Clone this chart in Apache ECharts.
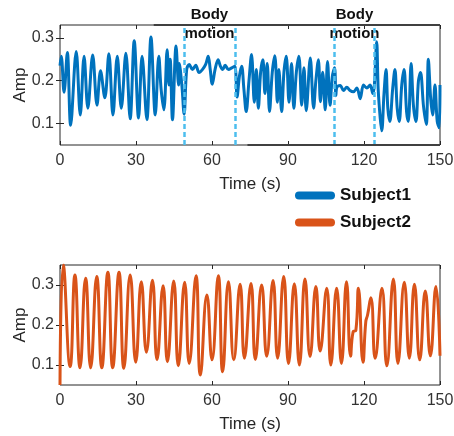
<!DOCTYPE html>
<html>
<head>
<meta charset="utf-8">
<script src="https://cdn.jsdelivr.net/npm/echarts@6/dist/echarts.min.js"></script>
<style>
  html, body { margin: 0; padding: 0; background: #fff; }
  #chart { width: 454px; height: 436px; }
</style>
</head>
<body>
<div id="chart"></div>
<script>
// Subject1 (top panel) - time (s) and amplitude
const s1Time = [0, 0.5, 1.6, 2.9, 4.2, 6.4, 8.0, 9.5, 11.0, 12.9, 14.6, 16.0, 17.7, 19.3, 20.9, 22.6, 24.2, 26.0, 27.7, 29.3,
  31.0, 32.4, 34.3, 35.9, 37.6, 39.0, 39.9, 41.0, 42.3, 43.0, 43.5, 44.4, 45.8, 46.8, 47.1, 48.1, 49.0,
  50.0, 51.0, 52.3, 53.6, 54.9, 56.2, 57.5, 58.5, 59.3, 60.1, 61.2, 62.4, 63.3, 64.2, 65.2, 66.5, 67.8, 69.0,
  69.9, 70.8, 71.7, 72.6, 73.5, 74.6, 75.6, 76.7, 77.5, 78.3, 79.2, 80.1, 80.9, 81.8, 82.7, 83.8, 84.8, 85.8,
  86.4, 87.5, 88.4, 89.3, 90.4, 91.4, 92.3, 93.3, 94.3, 95.4, 96.3, 97.2, 98.8, 100.1, 101.0, 102.0, 102.8,
  103.7, 104.7, 105.6, 106.6, 107.5, 108.4, 108.9, 109.3, 110.6, 111.9, 113.2, 114.5, 115.8, 117.2, 118.5,
  119.8, 121.1, 122.4, 123.5, 124.1, 125.0, 125.6, 126.4, 127.0, 127.9, 128.7, 129.4, 130.2, 131.3, 132.2,
  133.1, 133.9, 134.9, 135.8, 136.8, 137.5, 138.6, 139.5, 140.5, 141.5, 142.3, 143.5, 144.6, 145.4, 146.3,
  147.1, 148.0, 148.9, 149.7, 150];
const s1Amp = [0.235, 0.257, 0.173, 0.266, 0.096, 0.268, 0.12, 0.257, 0.136, 0.26, 0.143, 0.223, 0.16, 0.263, 0.12, 0.257, 0.136, 0.264, 0.111, 0.293,
  0.113, 0.257, 0.109, 0.302, 0.12, 0.257, 0.181, 0.132, 0.272, 0.19, 0.25, 0.109, 0.281, 0.19, 0.24, 0.19, 0.122,
  0.226, 0.238, 0.226, 0.236, 0.219, 0.226, 0.238, 0.257, 0.226, 0.192, 0.226, 0.249, 0.234, 0.226, 0.236, 0.226, 0.23, 0.234,
  0.162, 0.21, 0.234, 0.18, 0.128, 0.2, 0.261, 0.15, 0.226, 0.136, 0.22, 0.249, 0.17, 0.24, 0.128, 0.22, 0.258, 0.15,
  0.226, 0.128, 0.22, 0.257, 0.15, 0.24, 0.136, 0.22, 0.257, 0.143, 0.23, 0.13, 0.253, 0.136, 0.2, 0.249, 0.151,
  0.22, 0.132, 0.245, 0.143, 0.21, 0.23, 0.165, 0.185, 0.189, 0.177, 0.185, 0.177, 0.174, 0.183, 0.158,
  0.19, 0.183, 0.19, 0.17, 0.19, 0.291, 0.18, 0.113, 0.083, 0.17, 0.226, 0.136, 0.105, 0.18, 0.226,
  0.136, 0.105, 0.19, 0.226, 0.128, 0.105, 0.24, 0.143, 0.105, 0.2, 0.219, 0.14, 0.098, 0.25, 0.16,
  0.12, 0.19, 0.105, 0.09, 0.19];

// Subject2 (bottom panel)
const s2Time = [0, 1.3, 4.0, 5.9, 7.9, 10.1, 12.1, 14.5, 16.5, 18.9, 20.8, 23.3, 25.2, 27.7, 29.9, 32.1, 34.1, 36.5, 38.3,
  40.7, 42.4, 44.9, 46.7, 49.2, 51.0, 53.7, 55.4, 58.0, 60.0, 62.5, 64.2, 66.5, 68.6, 71.1, 72.8, 75.4, 77.1,
  79.6, 81.6, 84.1, 85.9, 88.3, 90.2, 92.5, 94.5, 96.7, 98.7, 101.0, 102.7, 105.3, 106.9, 109.2, 111.1, 113.1,
  114.7, 115.7, 116.8, 117.8, 119.6, 120.7, 121.4, 122.7, 124.4, 127.1, 129.0, 131.6, 133.4, 135.9, 137.9,
  139.9, 142.0, 144.2, 146.2, 148.4, 150];
const s2Amp = [0.05, 0.35, 0.096, 0.325, 0.093, 0.317, 0.093, 0.321, 0.093, 0.332, 0.093, 0.332, 0.092, 0.325, 0.107, 0.308, 0.132, 0.312, 0.113,
  0.298, 0.108, 0.31, 0.098, 0.307, 0.104, 0.323, 0.075, 0.275, 0.113, 0.323, 0.083, 0.308, 0.113, 0.302, 0.117, 0.304, 0.114,
  0.3, 0.122, 0.311, 0.117, 0.321, 0.104, 0.303, 0.1, 0.315, 0.121, 0.296, 0.135, 0.292, 0.1, 0.292, 0.104, 0.308,
  0.122, 0.183, 0.187, 0.292, 0.107, 0.208, 0.225, 0.268, 0.117, 0.292, 0.098, 0.315, 0.104, 0.307, 0.117,
  0.302, 0.113, 0.285, 0.123, 0.296, 0.123];

const yTicks = [0.1, 0.2, 0.3];
const motionStart = [49, 108.4];
const motionEnd = [69, 124.1];

const pairs = (t, v) => t.map((x, i) => [x, v[i]]);
const ink = '#262626';
const textFont = 'Liberation Sans, Arial, sans-serif';

function xAx(grid, name) {
  return {
    type: 'value', gridIndex: grid, min: 0, max: 150, interval: 30,
    name: name, nameLocation: 'middle', nameGap: 31, nameMoveOverlap: false,
    nameTextStyle: { fontSize: 17, color: ink, fontFamily: textFont },
    axisLine: { show: false },
    axisTick: { inside: true, length: 4, lineStyle: { color: ink } },
    axisLabel: { fontSize: 16, color: '#333', margin: 8, fontFamily: textFont },
    splitLine: { show: false }
  };
}
function xTop(grid) {
  return {
    type: 'value', gridIndex: grid, position: 'top', min: 0, max: 150, interval: 30,
    axisLine: { show: false }, axisLabel: { show: false }, splitLine: { show: false },
    axisTick: { inside: true, length: 4, lineStyle: { color: ink } }
  };
}
function yAx(grid, max, pos) {
  const side = pos === 'right';
  return {
    type: 'value', gridIndex: grid, position: pos, min: 0.05, max: max,
    name: side ? '' : 'Amp', nameLocation: 'middle', nameGap: 31, nameMoveOverlap: false,
    nameTextStyle: { fontSize: 17, color: ink, fontFamily: textFont },
    axisLine: { show: false },
    axisTick: { inside: true, length: 4, customValues: yTicks, lineStyle: { color: ink } },
    axisLabel: { show: !side, fontSize: 16, color: '#333', margin: 6, fontFamily: textFont,
      customValues: yTicks, formatter: v => v.toFixed(1) },
    splitLine: { show: false }
  };
}

const chart = echarts.init(document.getElementById('chart'));
chart.setOption({
  animation: false,
  backgroundColor: '#fff',
  grid: [
    { left: 60, top: 25, width: 380, height: 120, show: true, borderColor: ink, borderWidth: 1, outerBoundsMode: 'none' },
    { left: 60, top: 265, width: 380, height: 120, show: true, borderColor: ink, borderWidth: 1, outerBoundsMode: 'none' }
  ],
  xAxis: [xAx(0, 'Time (s)'), xTop(0), xAx(1, 'Time (s)'), xTop(1)],
  yAxis: [yAx(0, 0.33, 'left'), yAx(0, 0.33, 'right'), yAx(1, 0.35, 'left'), yAx(1, 0.35, 'right')],
  legend: {
    orient: 'vertical', left: 290, top: 182, itemGap: 10,
    itemWidth: 40, itemHeight: 8,
    icon: 'path://M4,0 H36 A4,4 0 0 1 36,8 H4 A4,4 0 0 1 4,0 Z',
    textStyle: { fontSize: 17, fontWeight: 'bold', color: '#111', fontFamily: textFont },
    data: ['Subject1', 'Subject2']
  },
  series: [
    {
      name: 'Subject1', type: 'line', xAxisIndex: 0, yAxisIndex: 0,
      data: pairs(s1Time, s1Amp), showSymbol: false, smooth: 0.35,
      lineStyle: { width: 3, color: '#0072BD' }, itemStyle: { color: '#0072BD' },
      markLine: {
        silent: true, symbol: ['none', 'none'], label: { show: false },
        lineStyle: { type: [5, 3], width: 2.5, color: '#4DBEEE' },
        data: motionStart.concat(motionEnd).map(x => ({ xAxis: x })).concat([
          [{ coord: [37, 0.33], lineStyle: { type: 'solid', color: '#404040', width: 2 } }, { coord: [150, 0.33] }],
          [{ coord: [74, 0.05], lineStyle: { type: 'solid', color: '#404040', width: 2 } }, { coord: [150, 0.05] }]
        ])
      }
    },
    {
      name: 'Subject2', type: 'line', xAxisIndex: 2, yAxisIndex: 2,
      data: pairs(s2Time, s2Amp), showSymbol: false, smooth: 0.5,
      lineStyle: { width: 3, color: '#D95319' }, itemStyle: { color: '#D95319' }
    }
  ]
});

// "Body motion" notes centred over each motion window
chart.setOption({
  graphic: motionStart.map((s, i) => ({
    type: 'text',
    x: chart.convertToPixel({ xAxisIndex: 0 }, (s + motionEnd[i]) / 2),
    y: 24,
    style: {
      text: 'Body\nmotion', align: 'center', verticalAlign: 'middle',
      font: 'bold 15px ' + textFont, lineHeight: 19, fill: '#111'
    }
  }))
});
</script>
</body>
</html>
